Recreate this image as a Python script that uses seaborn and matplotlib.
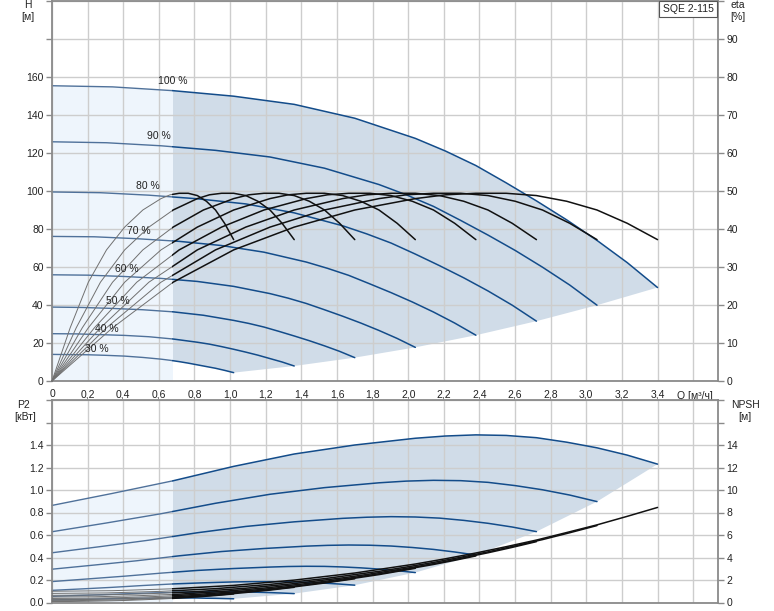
import numpy as np
import pandas as pd
import matplotlib
matplotlib.use("Agg")
import matplotlib.pyplot as plt
from matplotlib.patches import Rectangle
import seaborn as sns

# ---------------- data ----------------
SPEEDS = [100, 90, 80, 70, 60, 50, 40, 30]
SPEED_LABELS = ["100 %", "90 %", "80 %", "70 %", "60 %", "50 %", "40 %", "30 %"]

Q_100 = [0, 0.34, 0.68, 1.02, 1.36, 1.70, 2.04, 2.21, 2.38, 2.55, 2.72, 2.89, 3.06, 3.23, 3.40]
Q_90 = [0, 0.306, 0.612, 0.918, 1.224, 1.53, 1.836, 1.989, 2.142, 2.295, 2.448, 2.601, 2.754, 2.907, 3.06]
Q_80 = [0, 0.272, 0.544, 0.816, 1.088, 1.36, 1.632, 1.768, 1.904, 2.04, 2.176, 2.312, 2.448, 2.584, 2.72]
Q_70 = [0, 0.238, 0.476, 0.714, 0.952, 1.19, 1.428, 1.547, 1.666, 1.785, 1.904, 2.023, 2.142, 2.261, 2.38]
Q_60 = [0, 0.204, 0.408, 0.612, 0.816, 1.02, 1.224, 1.326, 1.428, 1.53, 1.632, 1.734, 1.836, 1.938, 2.04]
Q_50 = [0, 0.17, 0.34, 0.51, 0.68, 0.85, 1.02, 1.105, 1.19, 1.275, 1.36, 1.445, 1.53, 1.615, 1.70]
Q_40 = [0, 0.136, 0.272, 0.408, 0.544, 0.68, 0.816, 0.884, 0.952, 1.02, 1.088, 1.156, 1.224, 1.292, 1.36]
Q_30 = [0, 0.102, 0.204, 0.306, 0.408, 0.51, 0.612, 0.663, 0.714, 0.765, 0.816, 0.867, 0.918, 0.969, 1.02]

H_100 = [155.4, 154.8, 152.8, 149.9, 145.6, 138.3, 127.7, 121.0, 113.4, 104.3, 94.8, 84.8, 74.0, 62.3, 49.2]
H_90 = [125.9, 125.4, 123.8, 121.4, 117.9, 112.0, 103.4, 98.0, 91.9, 84.5, 76.8, 68.7, 59.9, 50.5, 39.9]
H_80 = [99.5, 99.1, 97.8, 95.9, 93.2, 88.5, 81.7, 77.4, 72.6, 66.8, 60.7, 54.3, 47.4, 39.9, 31.5]
H_70 = [76.1, 75.9, 74.9, 73.5, 71.3, 67.8, 62.6, 59.3, 55.6, 51.1, 46.5, 41.6, 36.3, 30.5, 24.1]
H_60 = [55.9, 55.7, 55.0, 54.0, 52.4, 49.8, 46.0, 43.6, 40.8, 37.5, 34.1, 30.5, 26.6, 22.4, 17.7]
H_50 = [38.9, 38.7, 38.2, 37.5, 36.4, 34.6, 31.9, 30.3, 28.4, 26.1, 23.7, 21.2, 18.5, 15.6, 12.3]
H_40 = [24.9, 24.8, 24.4, 24.0, 23.3, 22.1, 20.4, 19.4, 18.1, 16.7, 15.2, 13.6, 11.8, 10.0, 7.9]
H_30 = [14.0, 13.9, 13.8, 13.5, 13.1, 12.4, 11.5, 10.9, 10.2, 9.4, 8.5, 7.6, 6.7, 5.6, 4.4]

ETA_100 = [0, 14, 26, 34.5, 40.5, 45, 48, 49, 49.4, 49.4, 48.8, 47.3, 45, 41.5, 37.2]
ETA_90 = [0, 14, 26, 34.5, 40.5, 45, 48, 49, 49.4, 49.4, 48.8, 47.3, 45, 41.5, 37.2]
ETA_80 = [0, 14, 26, 34.5, 40.5, 45, 48, 49, 49.4, 49.4, 48.8, 47.3, 45, 41.5, 37.2]
ETA_70 = [0, 14, 26, 34.5, 40.5, 45, 48, 49, 49.4, 49.4, 48.8, 47.3, 45, 41.5, 37.2]
ETA_60 = [0, 14, 26, 34.5, 40.5, 45, 48, 49, 49.4, 49.4, 48.8, 47.3, 45, 41.5, 37.2]
ETA_50 = [0, 14, 26, 34.5, 40.5, 45, 48, 49, 49.4, 49.4, 48.8, 47.3, 45, 41.5, 37.2]
ETA_40 = [0, 14, 26, 34.5, 40.5, 45, 48, 49, 49.4, 49.4, 48.8, 47.3, 45, 41.5, 37.2]
ETA_30 = [0, 14, 26, 34.5, 40.5, 45, 48, 49, 49.4, 49.4, 48.8, 47.3, 45, 41.5, 37.2]

P2_100 = [0.863, 0.970, 1.082, 1.210, 1.320, 1.400, 1.460, 1.480, 1.490, 1.485, 1.465, 1.425, 1.375, 1.310, 1.230]
P2_90 = [0.629, 0.707, 0.789, 0.882, 0.962, 1.021, 1.064, 1.079, 1.086, 1.083, 1.068, 1.039, 1.002, 0.955, 0.897]
P2_80 = [0.442, 0.497, 0.554, 0.620, 0.676, 0.717, 0.748, 0.758, 0.763, 0.760, 0.750, 0.730, 0.704, 0.671, 0.630]
P2_70 = [0.296, 0.333, 0.371, 0.415, 0.453, 0.480, 0.501, 0.508, 0.511, 0.509, 0.502, 0.489, 0.472, 0.449, 0.422]
P2_60 = [0.186, 0.210, 0.234, 0.261, 0.285, 0.302, 0.315, 0.320, 0.322, 0.321, 0.316, 0.308, 0.297, 0.283, 0.266]
P2_50 = [0.108, 0.121, 0.135, 0.151, 0.165, 0.175, 0.183, 0.185, 0.186, 0.186, 0.183, 0.178, 0.172, 0.164, 0.154]
P2_40 = [0.055, 0.062, 0.069, 0.077, 0.084, 0.090, 0.093, 0.095, 0.095, 0.095, 0.094, 0.091, 0.088, 0.084, 0.079]
P2_30 = [0.023, 0.026, 0.029, 0.033, 0.036, 0.038, 0.039, 0.040, 0.040, 0.040, 0.040, 0.038, 0.037, 0.035, 0.033]

NPSH_100 = [1.00, 1.05, 1.22, 1.52, 1.99, 2.62, 3.42, 3.89, 4.40, 4.96, 5.55, 6.22, 6.90, 7.66, 8.45]
NPSH_90 = [0.81, 0.85, 0.99, 1.23, 1.61, 2.12, 2.77, 3.15, 3.56, 4.02, 4.50, 5.04, 5.59, 6.20, 6.84]
NPSH_80 = [0.64, 0.67, 0.78, 0.97, 1.27, 1.68, 2.19, 2.49, 2.82, 3.17, 3.55, 3.98, 4.42, 4.90, 5.41]
NPSH_70 = [0.49, 0.51, 0.60, 0.74, 0.98, 1.28, 1.68, 1.91, 2.16, 2.43, 2.72, 3.05, 3.38, 3.75, 4.14]
NPSH_60 = [0.36, 0.38, 0.44, 0.55, 0.72, 0.94, 1.23, 1.40, 1.58, 1.79, 2.00, 2.24, 2.48, 2.76, 3.04]
NPSH_50 = [0.25, 0.26, 0.31, 0.38, 0.50, 0.66, 0.86, 0.97, 1.10, 1.24, 1.39, 1.56, 1.73, 1.92, 2.11]
NPSH_40 = [0.16, 0.17, 0.20, 0.24, 0.32, 0.42, 0.55, 0.62, 0.70, 0.79, 0.89, 1.00, 1.10, 1.23, 1.35]
NPSH_30 = [0.09, 0.09, 0.11, 0.14, 0.18, 0.24, 0.31, 0.35, 0.40, 0.45, 0.50, 0.56, 0.62, 0.69, 0.76]

Q_TICKS = [0, 0.2, 0.4, 0.6, 0.8, 1.0, 1.2, 1.4, 1.6, 1.8, 2.0, 2.2, 2.4, 2.6, 2.8, 3.0, 3.2, 3.4, 3.6]
Q_TICK_LABELS = ["0", "0,2", "0,4", "0,6", "0,8", "1,0", "1,2", "1,4", "1,6", "1,8", "2,0",
                 "2,2", "2,4", "2,6", "2,8", "3,0", "3,2", "3,4", ""]
H_TICKS = [0, 20, 40, 60, 80, 100, 120, 140, 160, 180, 200]
H_TICK_LABELS = ["0", "20", "40", "60", "80", "100", "120", "140", "160", "", ""]
ETA_TICKS = [0, 10, 20, 30, 40, 50, 60, 70, 80, 90, 100]
ETA_TICK_LABELS = ["0", "10", "20", "30", "40", "50", "60", "70", "80", "90", ""]
P2_TICKS = [0, 0.2, 0.4, 0.6, 0.8, 1.0, 1.2, 1.4, 1.6, 1.8]
P2_TICK_LABELS = ["0.0", "0.2", "0.4", "0.6", "0.8", "1.0", "1.2", "1.4", "", ""]
NPSH_TICKS = [0, 2, 4, 6, 8, 10, 12, 14, 16, 18]
NPSH_TICK_LABELS = ["0", "2", "4", "6", "8", "10", "12", "14", "", ""]

LABEL_Q = [0.68, 0.60, 0.54, 0.49, 0.42, 0.37, 0.31, 0.25]
LABEL_H = [158, 128.8, 102.5, 79, 58.8, 41.9, 27.5, 16.9]

Q_SPLIT = 0.674          # boundary of the light (low-flow) zone
MODEL = "SQE 2-115"

# ---------------- assemble long table ----------------
Q_ALL = [Q_100, Q_90, Q_80, Q_70, Q_60, Q_50, Q_40, Q_30]
H_ALL = [H_100, H_90, H_80, H_70, H_60, H_50, H_40, H_30]
E_ALL = [ETA_100, ETA_90, ETA_80, ETA_70, ETA_60, ETA_50, ETA_40, ETA_30]
P_ALL = [P2_100, P2_90, P2_80, P2_70, P2_60, P2_50, P2_40, P2_30]
N_ALL = [NPSH_100, NPSH_90, NPSH_80, NPSH_70, NPSH_60, NPSH_50, NPSH_40, NPSH_30]

frames = []
for sp, q, h, e, p, n in zip(SPEEDS, Q_ALL, H_ALL, E_ALL, P_ALL, N_ALL):
    frames.append(pd.DataFrame({"speed": sp, "Q": q, "H": h, "eta": e, "P2": p, "NPSH": n}))
df = pd.concat(frames, ignore_index=True)

# ---------------- style ----------------
sns.set_theme(style="white")
plt.rcParams["font.family"] = ["Liberation Sans", "DejaVu Sans"]
plt.rcParams["axes.unicode_minus"] = False

BLUE = "#134c8a"
BLUE_LIGHT = "#4f719a"
BLACK = "#111111"
GREY = "#707070"
FILL_DARK = "#d0dce8"
FILL_LIGHT = "#eef5fc"
GRID = "#cdcdcd"
SPINE = "#8a8a8a"
TXT = "#222222"
FS = 7.5

W, H = 774, 611
fig = plt.figure(figsize=(W / 100, H / 100), dpi=100)
ax1 = fig.add_axes([52 / W, 1 - 381 / H, 666 / W, 380 / H])
ax2 = fig.add_axes([52 / W, 1 - 602.5 / H, 666 / W, 202.5 / H])
XMAX = 666 / 178.1


def clip_rect(ax, left):
    if left:
        return Rectangle((-100, -1e4), 100 + Q_SPLIT, 2e4, transform=ax.transData)
    return Rectangle((Q_SPLIT, -1e4), 100, 2e4, transform=ax.transData)


def split_lines(ax, col, dark, light, lw_dark, lw_light):
    n0 = len(ax.lines)
    sns.lineplot(data=df, x="Q", y=col, units="speed", estimator=None, sort=False,
                 color=dark, lw=lw_dark, ax=ax, legend=False)
    for ln in ax.lines[n0:]:
        ln.set_clip_path(clip_rect(ax, False))
    n1 = len(ax.lines)
    sns.lineplot(data=df, x="Q", y=col, units="speed", estimator=None, sort=False,
                 color=light, lw=lw_light, ax=ax, legend=False)
    for ln in ax.lines[n1:]:
        ln.set_clip_path(clip_rect(ax, True))


def fill_region(ax, top_q, top_v, low_q, low_v, all_q, all_v):
    ends_q = [q[-1] for q in all_q[1:]]
    ends_v = [v[-1] for v in all_v[1:]]
    px = list(top_q) + ends_q + list(low_q[::-1][1:])
    py = list(top_v) + ends_v + list(low_v[::-1][1:])
    for patch in ax.fill(px, py, color=FILL_DARK, lw=0, zorder=0.5):
        patch.set_clip_path(clip_rect(ax, False))
    poly = ax.fill_between(top_q, 0, top_v, color=FILL_LIGHT, lw=0, zorder=0.5)
    poly.set_clip_path(clip_rect(ax, True))


def style_axis(ax, ylim, yticks, ylabels, xlabels):
    ax.set_xlim(0, XMAX)
    ax.set_ylim(*ylim)
    ax.set_xticks(Q_TICKS)
    ax.set_xticklabels(Q_TICK_LABELS if xlabels else [""] * len(Q_TICKS))
    ax.set_yticks(yticks)
    ax.set_yticklabels(ylabels)
    ax.set_axisbelow("line")
    ax.grid(True, color=GRID, lw=1.0)
    ax.set_xlabel("")
    ax.set_ylabel("")
    for s in ax.spines.values():
        s.set_color(SPINE)
        s.set_linewidth(1.3)
    ax.tick_params(axis="both", direction="out", length=4, width=1, color=SPINE,
                   labelsize=FS, labelcolor=TXT, pad=2)


def style_twin(tw, ylim, yticks, ylabels):
    tw.set_ylim(*ylim)
    tw.set_yticks(yticks)
    tw.set_yticklabels(ylabels)
    tw.grid(False)
    tw.set_ylabel("")
    for s in tw.spines.values():
        s.set_visible(False)
    tw.tick_params(axis="y", direction="out", length=4, width=1, color=SPINE,
                   labelsize=FS, labelcolor=TXT, pad=2)


# ---------------- top chart: H and eta ----------------
fill_region(ax1, Q_100, H_100, Q_30, H_30, Q_ALL, H_ALL)
split_lines(ax1, "H", BLUE, BLUE_LIGHT, 1.1, 1.0)
style_axis(ax1, (0, 200), H_TICKS, H_TICK_LABELS, True)

ax_eta = ax1.twinx()
split_lines(ax_eta, "eta", BLACK, GREY, 1.1, 0.7)
style_twin(ax_eta, (0, 100), ETA_TICKS, ETA_TICK_LABELS)
ax_eta.set_xlim(0, XMAX)

for lab, lq, lh in zip(SPEED_LABELS, LABEL_Q, LABEL_H):
    ax_eta.text(lq, lh, lab, transform=ax1.transData, ha="center", va="center",
                fontsize=FS, color=TXT, zorder=5)

ax1.text(3.61, -0.027, "Q [м³/ч]", transform=ax1.get_xaxis_transform(), ha="center",
         va="top", fontsize=FS, color=TXT)

fig.text(688 / W, 1 - 9 / H, MODEL, ha="center", va="center", fontsize=FS, color=TXT,
         bbox=dict(boxstyle="square,pad=0.3", fc="white", ec="#555555", lw=0.8), zorder=10)

# ---------------- bottom chart: P2 and NPSH ----------------
fill_region(ax2, Q_100, P2_100, Q_30, P2_30, Q_ALL, P_ALL)
split_lines(ax2, "P2", BLUE, BLUE_LIGHT, 1.1, 1.0)
style_axis(ax2, (0, 1.8), P2_TICKS, P2_TICK_LABELS, False)

ax_n = ax2.twinx()
split_lines(ax_n, "NPSH", BLACK, GREY, 1.1, 0.7)
style_twin(ax_n, (0, 18), NPSH_TICKS, NPSH_TICK_LABELS)
ax_n.set_xlim(0, XMAX)

# ---------------- axis titles ----------------
fig.text(28 / W, 1 - 5 / H, "H", ha="center", va="center", fontsize=FS, color=TXT)
fig.text(28 / W, 1 - 17 / H, "[м]", ha="center", va="center", fontsize=FS, color=TXT)
fig.text(738 / W, 1 - 5 / H, "eta", ha="center", va="center", fontsize=FS, color=TXT)
fig.text(738 / W, 1 - 17 / H, "[%]", ha="center", va="center", fontsize=FS, color=TXT)
fig.text(23 / W, 1 - 405 / H, "P2", ha="center", va="center", fontsize=FS, color=TXT)
fig.text(25 / W, 1 - 417 / H, "[кВт]", ha="center", va="center", fontsize=FS, color=TXT)
fig.text(746 / W, 1 - 405 / H, "NPSH", ha="center", va="center", fontsize=FS, color=TXT)
fig.text(745 / W, 1 - 417 / H, "[м]", ha="center", va="center", fontsize=FS, color=TXT)

fig.savefig("out.png", dpi=100)
